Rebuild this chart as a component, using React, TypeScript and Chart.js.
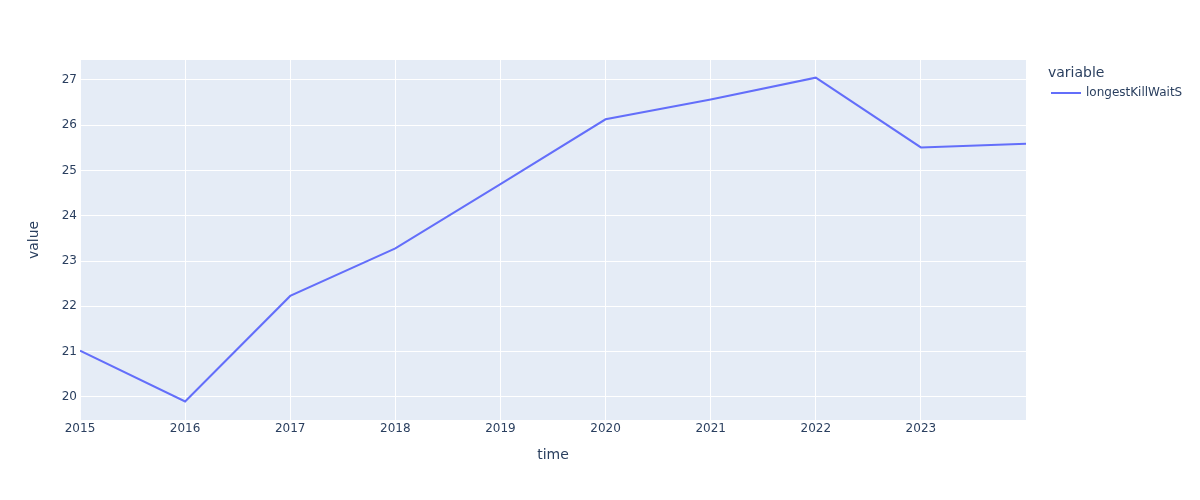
import React, { useEffect, useRef } from "react";
import { Chart, registerables } from "chart.js";

Chart.register(...registerables);

const years = [2015, 2016, 2017, 2018, 2019, 2020, 2021, 2022, 2023, 2024];
const longestKillWaitS = [21.02, 19.9, 22.23, 23.28, 24.7, 26.13, 26.57, 27.05, 25.51, 25.59];
const xTickYears = [2015, 2016, 2017, 2018, 2019, 2020, 2021, 2022, 2023];
const yTickValues = [20, 21, 22, 23, 24, 25, 26, 27];
const seriesName = "longestKillWaitS";
const legendTitle = "variable";

const FONT = '"DejaVu Sans", verdana, arial, sans-serif';
const TEXT = "#2a3f5f";
const LINE = "#636efa";

const bgPlugin = {
  id: "plotBg",
  beforeDraw(chart: any) {
    const { ctx, chartArea } = chart;
    ctx.save();
    ctx.fillStyle = "#E5ECF6";
    ctx.fillRect(chartArea.left, chartArea.top, chartArea.right - chartArea.left, chartArea.bottom - chartArea.top);
    ctx.restore();
  },
};

const legendPlugin = {
  id: "plotlyLegend",
  afterDraw(chart: any) {
    const { ctx } = chart;
    ctx.save();
    ctx.fillStyle = TEXT;
    ctx.textBaseline = "middle";
    ctx.textAlign = "left";
    ctx.font = `14px ${FONT}`;
    ctx.fillText(legendTitle, 1048, 73);
    ctx.strokeStyle = LINE;
    ctx.lineWidth = 2;
    ctx.beginPath();
    ctx.moveTo(1051, 93);
    ctx.lineTo(1081, 93);
    ctx.stroke();
    ctx.font = `12px ${FONT}`;
    ctx.fillText(seriesName, 1086, 93);
    ctx.restore();
  },
};

export default function App() {
  const ref = useRef<HTMLCanvasElement | null>(null);
  useEffect(() => {
    document.body.style.margin = "0";
    const canvas = ref.current!;
    const chart = new Chart(canvas, {
      type: "line",
      data: {
        datasets: [
          {
            label: seriesName,
            data: years.map((y, i) => ({ x: y, y: longestKillWaitS[i] })),
            borderColor: LINE,
            backgroundColor: LINE,
            borderWidth: 2,
            pointRadius: 0,
            tension: 0,
          },
        ],
      },
      options: {
        animation: false,
        responsive: false,
        layout: { padding: { top: 60, right: 174, left: 0, bottom: 0 } },
        plugins: { legend: { display: false }, tooltip: { enabled: false } },
        scales: {
          x: {
            type: "linear",
            min: 2015,
            max: 2024,
            afterBuildTicks: (s: any) => {
              s.ticks = xTickYears.map((v) => ({ value: v }));
            },
            afterFit: (s: any) => {
              s.height = 80;
            },
            grid: { color: "#ffffff", lineWidth: 1, drawTicks: false },
            border: { display: false },
            ticks: {
              color: TEXT,
              font: { family: FONT, size: 12 },
              padding: 2,
              maxRotation: 0,
              autoSkip: false,
              callback: (v: any) => String(v),
            },
            title: {
              display: true,
              text: "time",
              color: TEXT,
              font: { family: FONT, size: 14 },
              padding: { top: 4, bottom: 36 },
            },
          },
          y: {
            min: 19.49,
            max: 27.44,
            afterBuildTicks: (s: any) => {
              s.ticks = yTickValues.map((v) => ({ value: v }));
            },
            afterFit: (s: any) => {
              s.width = 80;
            },
            grid: { color: "#ffffff", lineWidth: 1, drawTicks: false },
            border: { display: false },
            ticks: {
              color: TEXT,
              font: { family: FONT, size: 12 },
              padding: 3,
              callback: (v: any) => String(v),
            },
            title: {
              display: true,
              text: "value",
              color: TEXT,
              font: { family: FONT, size: 14 },
              padding: { top: 26, bottom: 4 },
            },
          },
        },
      },
      plugins: [bgPlugin, legendPlugin],
    } as any);
    return () => chart.destroy();
  }, []);
  return (
    <div style={{ width: 1200, height: 500, background: "#fff" }}>
      <canvas ref={ref} width={1200} height={500} style={{ display: "block" }} />
    </div>
  );
}
